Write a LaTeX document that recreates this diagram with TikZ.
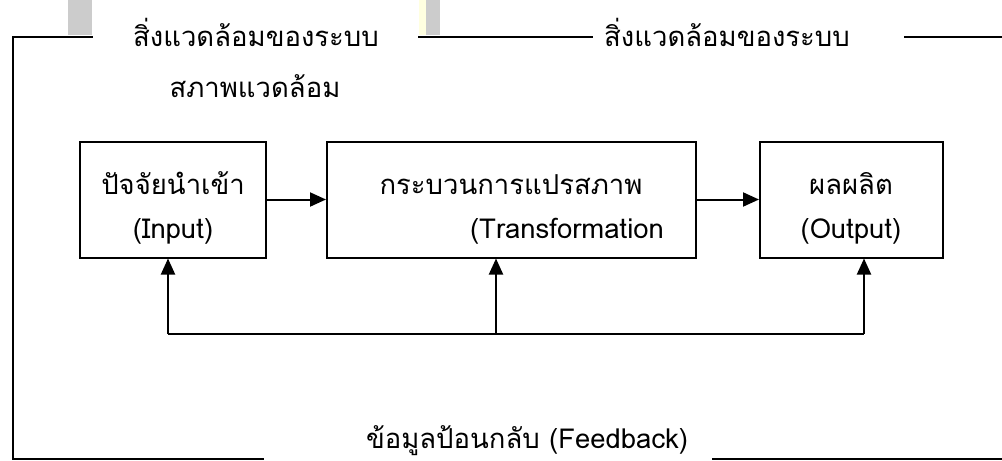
\documentclass[tikz,border=0pt]{standalone}
\usepackage{fontspec}
\newfontfamily\thaifont[Script=Thai]{Loma}
\usetikzlibrary{arrows.meta}
\definecolor{scan}{HTML}{CCCCCC}
\definecolor{scanyellow}{HTML}{FFFFE0}
\begin{document}
\begin{tikzpicture}[x=0.75pt,y=-0.75pt,
  line width=1.5pt,
  every node/.style={font=\thaifont\fontsize{20.6pt}{24pt}\selectfont, inner sep=0pt},
  boxnode/.style={draw, line width=1.5pt, rectangle},
  lbl/.style={anchor=base},
  arr/.style={-{Triangle[length=12pt,width=10.5pt]}},
  frame/.style={line width=1.5pt, line cap=rect}]
\useasboundingbox (0,0) rectangle (1002,460);
% scan artifacts
\fill[scan] (68,0) rectangle (92,35);
\fill[scanyellow] (419,0) rectangle (426,35);
\fill[scan] (426,0) rectangle (440,35);
% frame coordinates
\coordinate (tl) at (13,37);
\coordinate (bl) at (13,459);
\coordinate (t1) at (92,37);
\coordinate (t2) at (419,37);
\coordinate (t3) at (592,37);
\coordinate (t4) at (905,37);
\coordinate (t5) at (1002,37);
\coordinate (b1) at (263,459);
\coordinate (b2) at (713,459);
\coordinate (b3) at (1002,459);
\draw[frame] (t1) -- (tl) -- (bl) -- (b1);
\draw[frame] (t2) -- (t3);
\draw[frame] (t4) -- (t5);
\draw[frame] (b2) -- (b3);
% labels of the environment
\node[lbl] (env1) at (256,47) {สิ่งแวดล้อมของระบบ};
\node[lbl] (env2) at (255,97) {สภาพแวดล้อม};
\node[lbl] (env3) at (727,47) {สิ่งแวดล้อมของระบบ};
\node[lbl] (fb) at (527,448) {ข้อมูลป้อนกลับ (Feedback)};
% boxes
\node[boxnode, minimum width=139.5pt, minimum height=87pt] (in) at (173,199.5) {};
\node[boxnode, minimum width=276.75pt, minimum height=87pt] (tr) at (511.5,199.5) {};
\node[boxnode, minimum width=137.25pt, minimum height=87pt] (out) at (851.5,199.5) {};
% box texts
\node[lbl] (in1) at (173,194) {ปัจจัยนำเข้า};
\node[lbl] (in2) at (173,238) {(Input)};
\node[lbl] (tr1) at (511,194) {กระบวนการแปรสภาพ};
\node[lbl] (tr2) at (567,238) {(Transformation};
\node[lbl] (out1) at (851,194) {ผลผลิต};
\node[lbl] (out2) at (851,238) {(Output)};
% connectors
\draw[arr] (in.east) -- (tr.west);
\draw[arr] (tr.east) -- (out.west);
\coordinate (fbL) at (168,334);
\coordinate (fbM) at (496,334);
\coordinate (fbR) at (864,334);
\draw (fbL) -- (fbR);
\draw[arr] (fbL) -- (fbL |- in.south);
\draw[arr] (fbM) -- (fbM |- tr.south);
\draw[arr] (fbR) -- (fbR |- out.south);
\end{tikzpicture}
\end{document}
